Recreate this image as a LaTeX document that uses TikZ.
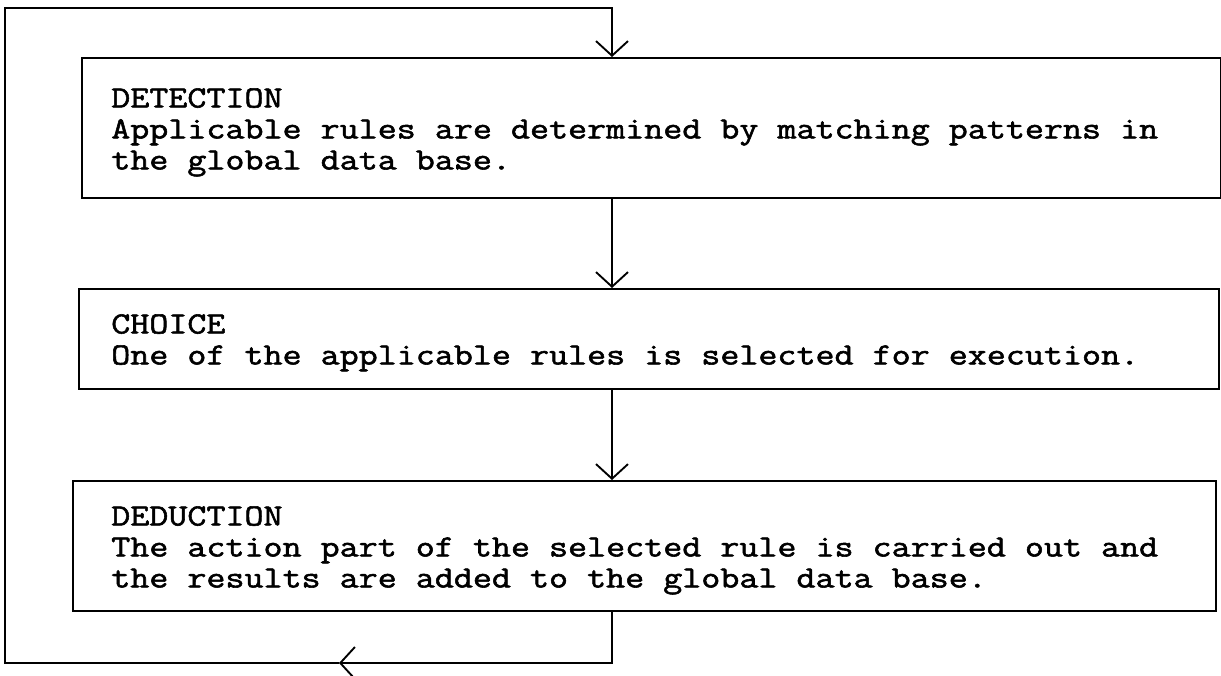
\documentclass[tikz,border=0pt]{standalone}
\usepackage{fontspec}
\usetikzlibrary{arrows.meta}
\newfontfamily\typefont{Latin Modern Mono}[FakeStretch=1.2,FakeBold=1.8]

\tikzset{
  stage/.style={draw, line width=1.6pt, rectangle, inner sep=0pt, anchor=north west},
  stagetext/.style={anchor=north west, inner sep=0pt, align=left,
    font=\typefont\fontsize{23.1}{23.25}\selectfont},
  flow/.style={line width=1.5pt, line join=miter,
    -{Straight Barb[length=11pt,width=24pt,line width=1.4pt]}},
  wire/.style={line width=1.5pt, line join=miter}
}

\begin{document}
\begin{tikzpicture}[x=0.75pt, y=-0.75pt]
  \useasboundingbox (0,0) rectangle (1221,675);

  % the three stages of the cycle
  \node[stage, minimum width=854.25pt, minimum height=105pt] (det) at (81,57) {};
  \node[stage, minimum width=855pt, minimum height=75pt] (cho) at (78,288) {};
  \node[stage, minimum width=857.25pt, minimum height=97.5pt] (ded) at (72,480) {};

  \node[stagetext] (dettext) at (111,88)
    {DETECTION\\Applicable rules are determined by matching patterns in\\the global data base.};
  \node[stagetext] (chotext) at (111,314)
    {CHOICE\\One of the applicable rules is selected for execution.};
  \node[stagetext] (dedtext) at (111,506)
    {DEDUCTION\\The action part of the selected rule is carried out and\\the results are added to the global data base.};

  % corners of the return loop
  \coordinate (top) at (612,8);
  \coordinate (tl) at (5,8);
  \coordinate (bl) at (5,663);
  \coordinate (back) at (339,663);

  % forward arrows between stages
  \draw[flow] (det.south -| top) -- (cho.north -| top);
  \draw[flow] (cho.south -| top) -- (ded.north -| top);

  % return loop from deduction back to detection
  \draw[flow] (ded.south -| top) |- (back);
  \draw[flow] (back) -- (bl) -- (tl) -- (top) -- (det.north -| top);
\end{tikzpicture}
\end{document}
